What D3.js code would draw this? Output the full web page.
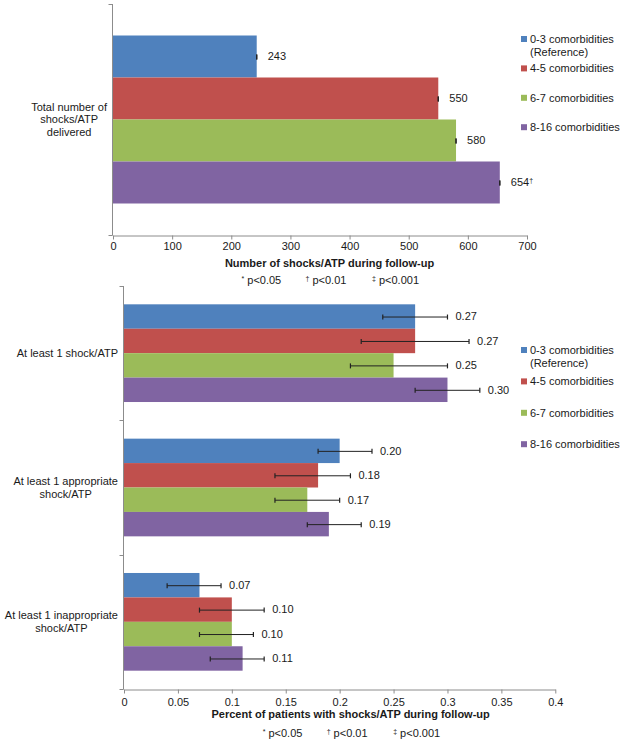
<!DOCTYPE html>
<html>
<head>
<meta charset="utf-8">
<script src="https://cdn.jsdelivr.net/npm/d3@7"></script>
<style>
  html, body { margin: 0; padding: 0; background: #fff; }
  svg { display: block; font-family: "Liberation Sans", Arial, sans-serif; }
</style>
</head>
<body>
<svg id="chart" width="625" height="742"></svg>
<script>
// ---------- DATA ----------
const seriesNames = ["0-3 comorbidities|(Reference)", "4-5 comorbidities", "6-7 comorbidities", "8-16 comorbidities"];
const seriesColors = ["#4F81BD", "#C0504D", "#9BBB59", "#8064A2"];

// Top panel
const topCategories = ["Total number of|shocks/ATP|delivered"];
const topValues = [243, 550, 580, 654];          // one value per series
const topSig = ["", "", "", "†"];
const topTicks = [0, 100, 200, 300, 400, 500, 600, 700];
const topTitle = "Number of shocks/ATP during follow-up";

// Bottom panel (per series, per category)
const bottomCategories = ["At least 1 shock/ATP", "At least 1 appropriate|shock/ATP", "At least 1 inappropriate|shock/ATP"];
const bottomValues = [
  [0.27, 0.20, 0.07],
  [0.27, 0.18, 0.10],
  [0.25, 0.17, 0.10],
  [0.30, 0.19, 0.11]
];
const bottomLow = [
  [0.24, 0.18, 0.04],
  [0.22, 0.14, 0.07],
  [0.21, 0.14, 0.07],
  [0.27, 0.17, 0.08]
];
const bottomHigh = [
  [0.30, 0.23, 0.09],
  [0.32, 0.21, 0.13],
  [0.30, 0.20, 0.12],
  [0.33, 0.22, 0.13]
];
const bottomTicks = [0, 0.05, 0.1, 0.15, 0.2, 0.25, 0.3, 0.35, 0.4];
const bottomTitle = "Percent of patients with shocks/ATP during follow-up";

const footnotes = [["*", "p<0.05"], ["†", "p<0.01"], ["‡", "p<0.001"]];

// ---------- DRAW ----------
const svg = d3.select("#chart");
const AXIS = "#8c8c8c";
const TEXT = "#1a1a1a";
const FS = 11;

function drawPanel(cfg) {
  const g = svg.append("g");
  const x = d3.scaleLinear().domain(cfg.domain).range([cfg.x0, cfg.x1]);
  const y = d3.scaleBand().domain(cfg.categories.map((c, i) => i)).range([cfg.y0, cfg.y1]).paddingInner(0).paddingOuter(0);
  const inner = d3.scaleBand().domain(seriesNames.map((s, i) => i)).range([0, y.bandwidth()]).paddingInner(0).paddingOuter(0.75);

  // bars
  const rows = [];
  cfg.categories.forEach((c, ci) => {
    seriesNames.forEach((s, si) => {
      rows.push({ci, si, v: cfg.value(si, ci), lo: cfg.low(si, ci), hi: cfg.high(si, ci), label: cfg.label(si, ci)});
    });
  });
  g.selectAll("rect.bar").data(rows).join("rect")
    .attr("class", "bar")
    .attr("x", x(0))
    .attr("y", d => y(d.ci) + inner(d.si))
    .attr("width", d => x(d.v) - x(0))
    .attr("height", inner.bandwidth())
    .attr("fill", d => seriesColors[d.si]);

  // error bars
  const eb = g.selectAll("g.err").data(rows).join("g").attr("class", "err")
    .attr("transform", d => `translate(0,${y(d.ci) + inner(d.si) + inner.bandwidth() / 2})`);
  eb.append("line").attr("x1", d => x(d.lo)).attr("x2", d => x(d.hi)).attr("y1", 0.5).attr("y2", 0.5)
    .attr("stroke", "#222").attr("stroke-width", 1);
  eb.append("line").attr("x1", d => x(d.lo)).attr("x2", d => x(d.lo)).attr("y1", -2).attr("y2", 3)
    .attr("stroke", "#222").attr("stroke-width", 1.2);
  eb.append("line").attr("x1", d => x(d.hi)).attr("x2", d => x(d.hi)).attr("y1", -2).attr("y2", 3)
    .attr("stroke", "#222").attr("stroke-width", 1.2);

  // value labels
  const lbl = g.selectAll("text.val").data(rows).join("text").attr("class", "val")
    .attr("x", d => x(d.hi) + cfg.labelGap)
    .attr("y", d => y(d.ci) + inner(d.si) + inner.bandwidth() / 2)
    .attr("dy", "0.35em")
    .attr("font-size", FS).attr("fill", TEXT);
  lbl.append("tspan").text(d => d.label.text);
  lbl.append("tspan").text(d => d.label.sup).attr("font-size", 7).attr("dy", -3);

  // x axis
  const xa = g.append("g").attr("transform", `translate(0,${cfg.y1 + 0.5})`)
    .call(d3.axisBottom(x).tickValues(cfg.ticks).tickSize(4).tickSizeOuter(0).tickPadding(5)
      .tickFormat(d => String(+d.toFixed(2))));
  xa.select(".domain").attr("stroke", AXIS);
  xa.selectAll(".tick line").attr("stroke", AXIS);
  xa.selectAll(".tick text").attr("font-size", FS).attr("fill", TEXT).attr("font-family", null)
    .attr("y", cfg.tickLabelDy).attr("dy", "0.35em");
  xa.attr("font-family", null);

  // y axis (line + ticks at category boundaries)
  const ax = cfg.x0 - 0.5;
  g.append("line").attr("x1", ax).attr("x2", ax).attr("y1", cfg.y0).attr("y2", cfg.y1 + 0.5)
    .attr("stroke", AXIS);
  const bounds = cfg.categories.map((c, i) => y(i)).concat([cfg.y1]);
  g.selectAll("line.ytick").data(bounds).join("line").attr("class", "ytick")
    .attr("x1", ax - 4).attr("x2", ax).attr("y1", d => Math.round(d) + 0.5).attr("y2", d => Math.round(d) + 0.5)
    .attr("stroke", AXIS);

  // category labels (multi-line, centered block, right edge near axis)
  cfg.categories.forEach((c, ci) => {
    const lines = c.split("|");
    const t = g.append("text").attr("font-size", FS).attr("fill", TEXT).attr("text-anchor", "middle");
    const lh = 12.5;
    const cy = y(ci) + y.bandwidth() / 2;
    lines.forEach((ln, li) => {
      t.append("tspan").attr("x", 0).attr("y", cy + (li - (lines.length - 1) / 2) * lh).attr("dy", "0.35em").text(ln);
    });
    const w = d3.max(t.selectAll("tspan").nodes(), n => n.getComputedTextLength());
    t.selectAll("tspan").attr("x", cfg.x0 - 6 - w / 2);
  });

  // axis title
  const cx = (cfg.x0 + cfg.x1) / 2 + cfg.titleShift;
  g.append("text").attr("x", cx).attr("y", cfg.titleY).attr("dy", "0.35em")
    .attr("text-anchor", "middle").attr("font-size", FS).attr("font-weight", "bold").attr("fill", TEXT)
    .text(cfg.title);

  // footnotes
  const fnOffsets = [-88, -24, 42.5];
  footnotes.forEach((f, i) => {
    const t = g.append("text").attr("x", cx + fnOffsets[i]).attr("y", cfg.footY + 4)
      .attr("font-size", FS).attr("fill", TEXT);
    t.append("tspan").text(f[0]).attr("font-size", 7).attr("dy", -2.5);
    t.append("tspan").text(" " + f[1]).attr("dy", 2.5);
  });

  // legend
  seriesNames.forEach((s, si) => {
    const ly = cfg.legendY + si * cfg.legendStep;
    g.append("rect").attr("x", 521).attr("y", ly - 3).attr("width", 6).attr("height", 6).attr("fill", seriesColors[si]);
    const t = g.append("text").attr("font-size", FS).attr("fill", TEXT);
    s.split("|").forEach((ln, li) => {
      t.append("tspan").attr("x", 530).attr("y", ly + li * 12.7).attr("dy", "0.35em").text(ln);
    });
  });
}

drawPanel({
  categories: topCategories,
  domain: [0, 700], x0: 113, x1: 527, y0: 4, y1: 235,
  ticks: topTicks,
  value: (si) => topValues[si],
  low: (si) => topValues[si],
  high: (si) => topValues[si],
  label: (si) => ({text: String(topValues[si]), sup: topSig[si]}),
  labelGap: 11,
  tickLabelDy: 10.5,
  title: topTitle, titleY: 262.7, titleShift: 9.5, footY: 279.5,
  legendY: 39, legendStep: 29.4
});

drawPanel({
  categories: bottomCategories,
  domain: [0, 0.4], x0: 124, x1: 555.3, y0: 286, y1: 689,
  ticks: bottomTicks,
  value: (si, ci) => bottomValues[si][ci],
  low: (si, ci) => bottomLow[si][ci],
  high: (si, ci) => bottomHigh[si][ci],
  label: (si, ci) => ({text: bottomValues[si][ci].toFixed(2), sup: ""}),
  labelGap: 8,
  tickLabelDy: 13,
  title: bottomTitle, titleY: 714.3, titleShift: 11, footY: 732.5,
  legendY: 350, legendStep: 31.4
});
</script>
</body>
</html>
